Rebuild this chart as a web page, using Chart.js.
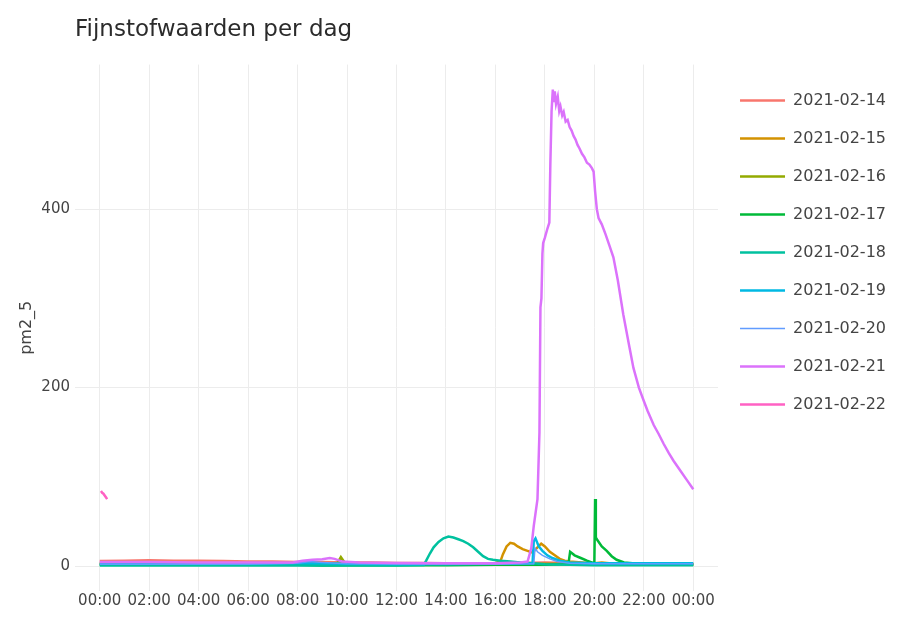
<!DOCTYPE html>
<html>
<head>
<meta charset="utf-8">
<script src="https://cdn.jsdelivr.net/npm/chart.js@4"></script>
<style>
  html, body { margin: 0; padding: 0; background: #fff; }
  #wrap { width: 902px; height: 623px; }
</style>
</head>
<body>
<div id="wrap"><canvas id="pmChart"></canvas></div>
<script>
const days = ['2021-02-14', '2021-02-15', '2021-02-16', '2021-02-17', '2021-02-18',
  '2021-02-19', '2021-02-20', '2021-02-21', '2021-02-22'];

// hour of day (0-24) and pm2_5 reading, one pair of arrays per day
const hours14 = [0, 1, 2, 3, 4, 5, 6, 7, 8, 9, 10, 11, 12, 13, 14, 15, 16, 17, 18, 19, 20, 21, 22, 23, 24];
const pm14 = [5.5, 6, 6.5, 6, 6, 5.5, 5, 5, 4.5, 4.5, 4, 4, 3.5, 3.5, 3, 3, 3, 3.5, 4, 3.5, 3, 3, 2.5, 2.5, 2.5];

const hours15 = [0, 2, 4, 6, 8, 10, 12, 14, 16, 16.2, 16.3, 16.45, 16.6, 16.75, 16.9, 17.1, 17.3, 17.5, 17.7, 17.85,
  18.0, 18.2, 18.4, 18.6, 18.8, 19.0, 19.5, 20.0, 20.3, 20.6, 21, 22, 23, 24];
const pm15 = [3, 3, 3, 3, 3.5, 3, 3, 3, 3.5, 5, 13, 22, 26, 25, 22, 19, 17, 15, 21, 25,
  22, 16, 12, 8, 6, 5, 4, 3, 4, 3, 2.5, 2.5, 2, 2];

const hours16 = [0, 2, 4, 6, 8, 9.6, 9.75, 9.9, 10.2, 12, 14, 16, 18, 20, 22, 24];
const pm16 = [2, 2, 2, 2.5, 2.5, 3, 10, 4, 3, 2.5, 2, 2, 2.5, 2, 2, 2];

const hours17 = [0, 2, 4, 6, 8, 9, 10, 12, 14, 16, 18, 18.95, 19.02, 19.2, 19.45, 19.7, 20.0,
  20.03, 20.06, 20.1, 20.3, 20.5, 20.7, 20.9, 21.2, 22, 23, 24];
const pm17 = [1.5, 1.5, 1.5, 1.5, 1.5, 0.5, 1, 1, 1, 1.5, 1.5, 2, 16, 12, 9, 6, 3,
  75, 32, 30, 22, 17, 11, 7, 4, 2, 1.5, 1.5];

const hours18 = [0, 2, 4, 6, 8, 10, 12, 13.1, 13.2, 13.35, 13.5, 13.7, 13.9, 14.1, 14.3, 14.5, 14.7, 14.9,
  15.1, 15.3, 15.5, 15.7, 15.9, 16.2, 16.6, 17, 17.5, 18, 20, 22, 24];
const pm18 = [0.5, 0.5, 0.5, 0.5, 0.5, 0.5, 0.5, 1, 6, 14, 21, 27, 31, 33, 32, 30, 28, 25,
  21, 16, 11, 8, 7, 6, 5, 4, 3, 2, 1, 1, 1];

const hours19 = [0, 2, 4, 6, 8, 10, 12, 14, 16, 17.5, 17.55, 17.62, 17.75, 17.9, 18.1, 18.3, 18.6, 19, 20, 22, 24];
const pm19 = [2.5, 2.5, 2.5, 2.5, 3, 2.5, 2, 2, 2.5, 3, 28, 31, 22, 17, 12, 9, 6, 4, 3, 3, 3];

const hours20 = [0, 2, 4, 6, 8, 8.5, 9, 10, 12, 14, 16, 17.55, 17.6, 17.7, 17.9, 18.2, 18.5, 19, 20, 22, 24];
const pm20 = [2, 2, 2, 2, 3, 5, 4, 2.5, 2, 2, 2, 2.5, 20, 16, 12, 8, 5, 3, 2.5, 2.5, 2.5];

const hours21 = [0, 2, 4, 6, 7.8, 8.2, 8.6, 9.0, 9.3, 9.5, 9.8, 10.5, 12, 14, 16, 17,
  17.3, 17.45, 17.55, 17.7, 17.78, 17.82, 17.86, 17.9, 17.93,
  18.0, 18.1, 18.18, 18.22, 18.27, 18.32, 18.36, 18.4, 18.45, 18.52, 18.58, 18.63, 18.7, 18.76, 18.84, 18.92,
  19.0, 19.08, 19.16, 19.24, 19.32, 19.4, 19.5, 19.6, 19.7, 19.8, 19.9, 19.97,
  20.03, 20.1, 20.17, 20.3, 20.45, 20.6, 20.77, 20.95, 21.17, 21.4, 21.58, 21.8,
  22.0, 22.15, 22.4, 22.6, 22.8, 23.0, 23.2, 23.5, 23.75, 24];
const pm21 = [4.5, 4.5, 4, 4, 4, 6, 7, 7.5, 9, 8, 5, 4, 3.5, 3, 3, 4,
  5, 20, 45, 75, 150, 290, 300, 350, 362,
  368, 378, 385, 450, 510, 534, 520, 532, 518, 526, 510, 515, 505, 509, 498, 500,
  492, 488, 482, 478, 472, 468, 462, 458, 452, 450, 446, 442,
  420, 400, 390, 383, 372, 360, 346, 320, 282, 248, 222, 200,
  185, 174, 158, 148, 137, 127, 118, 106, 96, 86];

const hours22 = [0.05, 0.1, 0.15, 0.2, 0.25, 0.3];
const pm22 = [84, 82, 81, 79, 77, 75];

const hourTicks = [0, 2, 4, 6, 8, 10, 12, 14, 16, 18, 20, 22, 24];
const hourLabels = ['00:00', '02:00', '04:00', '06:00', '08:00', '10:00', '12:00',
  '14:00', '16:00', '18:00', '20:00', '22:00', '00:00'];
const pmTicks = [0, 200, 400];

const dayColors = ['#F8766D', '#D39200', '#93AA00', '#00BA38', '#00C19F', '#00B9E3', '#619CFF', '#DB72FB', '#FF61C3'];
const lineWidths = [2.5, 2.5, 2.5, 2.5, 2.5, 2.5, 1.5, 2.5, 2.5];

const seriesHours = [hours14, hours15, hours16, hours17, hours18, hours19, hours20, hours21, hours22];
const seriesValues = [pm14, pm15, pm16, pm17, pm18, pm19, pm20, pm21, pm22];

Chart.defaults.font.family = "'DejaVu Sans', Verdana, sans-serif";
Chart.defaults.color = '#444';

const datasets = days.map((day, i) => ({
  label: day,
  data: seriesHours[i].map((h, j) => ({ x: h, y: seriesValues[i][j] })),
  borderColor: dayColors[i],
  backgroundColor: dayColors[i],
  borderWidth: lineWidths[i],
  pointRadius: 0,
  tension: 0,
  fill: false,
  order: days.length - i
}));

new Chart(document.getElementById('pmChart').getContext('2d'), {
  type: 'line',
  data: { datasets },
  options: {
    responsive: true,
    maintainAspectRatio: false,
    animation: false,
    layout: { padding: { left: 0, right: 6, top: 0, bottom: 12 } },
    plugins: {
      tooltip: { enabled: false },
      title: {
        display: true,
        text: 'Fijnstofwaarden per dag',
        align: 'start',
        fullSize: false,
        color: '#2b2b2b',
        font: { size: 23, weight: 'normal' },
        padding: { top: 16, bottom: 21 }
      },
      legend: {
        position: 'right',
        align: 'start',
        fullSize: false,
        title: { display: true, text: ' ', font: { size: 5 }, padding: 0 },
        labels: {
          usePointStyle: true,
          pointStyle: 'line',
          pointStyleWidth: 45,
          padding: 22,
          color: '#444',
          font: { size: 16 },
          sort: (a, b) => a.datasetIndex - b.datasetIndex
        }
      }
    },
    scales: {
      x: {
        type: 'linear',
        min: -1,
        max: 25,
        afterBuildTicks: axis => { axis.ticks = hourTicks.map(v => ({ value: v })); },
        ticks: {
          autoSkip: false,
          maxRotation: 0,
          padding: 1,
          font: { size: 15 },
          callback: (value, index) => hourLabels[index]
        },
        grid: { color: '#ececec', drawTicks: false },
        border: { display: false }
      },
      y: {
        type: 'linear',
        min: -28,
        max: 562,
        afterBuildTicks: axis => { axis.ticks = pmTicks.map(v => ({ value: v })); },
        afterFit: axis => { axis.width = 75; },
        ticks: { padding: 5, font: { size: 15 } },
        title: {
          display: true,
          text: 'pm2_5',
          font: { size: 16 },
          padding: { top: 17, bottom: 0 }
        },
        grid: { color: '#ececec', drawTicks: false },
        border: { display: false }
      }
    }
  }
});
</script>
</body>
</html>
